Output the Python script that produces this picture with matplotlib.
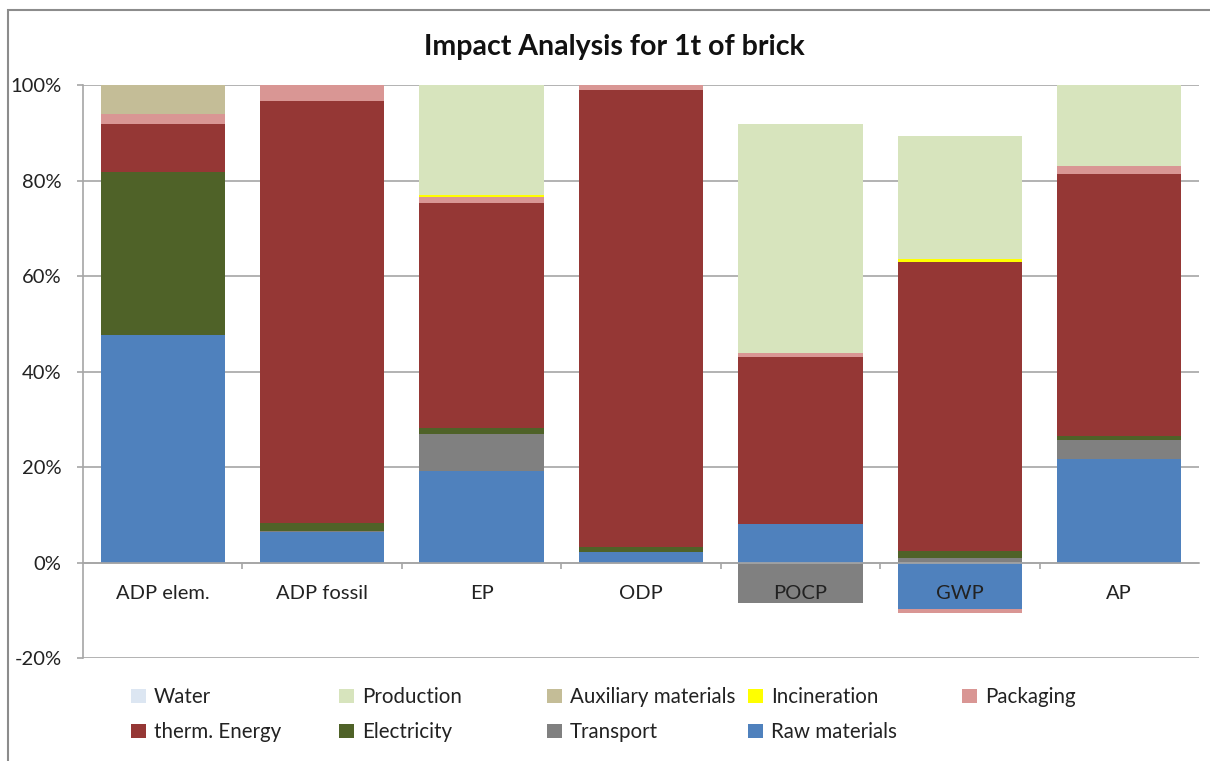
import matplotlib
matplotlib.use("Agg")
import matplotlib.pyplot as plt
from matplotlib.patches import Rectangle, Patch
import numpy as np

plt.rcParams['font.family'] = ['Lato', 'DejaVu Sans']

categories = ['ADP elem.', 'ADP fossil', 'EP', 'ODP', 'POCP', 'GWP', 'AP']

# values in percent, stacked bottom -> top
raw_materials = [47.6, 6.4, 19.1, 2.2, 8.0, -9.8, 21.6]
transport     = [0.0, 0.3, 7.9, 0.0, -8.4, 1.0, 4.0]
electricity   = [34.2, 1.5, 1.1, 1.0, 0.0, 1.5, 0.8]
therm_energy  = [10.0, 88.5, 47.2, 95.8, 35.0, 60.5, 54.9]
packaging     = [2.1, 3.3, 1.2, 1.0, 0.8, -0.7, 1.7]
incineration  = [0.0, 0.0, 0.4, 0.0, 0.0, 0.6, 0.0]
auxiliary     = [6.1, 0.0, 0.0, 0.0, 0.0, 0.0, 0.0]
production    = [0.0, 0.0, 23.1, 0.0, 48.0, 25.7, 17.0]
water         = [0.0, 0.0, 0.0, 0.0, 0.0, 0.0, 0.0]

series_names = ['Raw materials', 'Transport', 'Electricity', 'therm. Energy',
                'Packaging', 'Incineration', 'Auxiliary materials', 'Production', 'Water']
series_vals = [raw_materials, transport, electricity, therm_energy, packaging,
               incineration, auxiliary, production, water]
colors = ['#4F81BD', '#808080', '#4F6228', '#953735', '#D99694',
          '#FFFF00', '#C4BD97', '#D7E4BD', '#DCE6F2']

fig = plt.figure(figsize=(12.10, 7.61), dpi=100)
ax = fig.add_axes([83/1210, 1-658/761, (1199-83)/1210, (658-85)/761])

x = np.arange(len(categories))
pos_bottom = np.zeros(len(categories))
neg_bottom = np.zeros(len(categories))
for name, vals, c in zip(series_names, series_vals, colors):
    v = np.array(vals, dtype=float)
    bottoms = np.where(v >= 0, pos_bottom, neg_bottom)
    ax.bar(x, v, bottom=bottoms, width=0.78, color=c, label=name, zorder=3,
           linewidth=0)
    pos_bottom += np.where(v >= 0, v, 0)
    neg_bottom += np.where(v < 0, v, 0)

ax.set_xlim(-0.5, len(categories) - 0.5)
ax.set_ylim(-20, 100)
ax.set_yticks(np.arange(-20, 101, 20))
ax.set_yticklabels([f'{t}%' for t in range(-20, 101, 20)], fontsize=14.5, color='#222222')
ax.yaxis.grid(True, color='#A6A6A6', linewidth=1.2, zorder=0)
ax.set_axisbelow(True)

for s in ['top', 'right']:
    ax.spines[s].set_visible(False)
ax.spines['left'].set_color('#A6A6A6')
ax.spines['left'].set_linewidth(1.2)
ax.spines['bottom'].set_position(('data', 0))
ax.spines['bottom'].set_color('#A6A6A6')
ax.spines['bottom'].set_linewidth(1.2)
ax.spines['bottom'].set_zorder(4)

ax.set_xticks(x)
ax.set_xticklabels(categories, fontsize=14.5, color='#222222')
ax.set_xticks(np.arange(0.5, len(categories) - 0.5, 1), minor=True)
ax.tick_params(axis='x', which='major', length=0, pad=16)
ax.tick_params(axis='x', which='minor', length=4.5, color='#A6A6A6', width=1.2, direction='out')
ax.tick_params(axis='y', length=4.5, color='#A6A6A6', width=1.2, direction='out', pad=11)
ax.xaxis.set_zorder(5)

fig.text(614/1210, 1-47/761, 'Impact Analysis for 1t of brick', ha='center', va='center',
         fontsize=20.5, fontweight='bold', color='#111111')

# border of chart area
fig.patches.append(Rectangle((8/1210, -0.05), 1.2, 1-10/761+0.05, transform=fig.transFigure,
                             fill=False, edgecolor='#8C8C8C', linewidth=1.5))

# legend: columns placed like the reference (row-major order)
legend_cols = [['Water', 'therm. Energy'], ['Production', 'Electricity'],
               ['Auxiliary materials', 'Transport'], ['Incineration', 'Raw materials'],
               ['Packaging']]
col_x = [135, 343, 551, 752, 966]
cmap = dict(zip(series_names, colors))
for names, cx in zip(legend_cols, col_x):
    handles = [Patch(facecolor=cmap[n], edgecolor='none', label=n) for n in names]
    fig.legend(handles=handles, loc='upper left',
               bbox_to_anchor=(cx/1210 - 0.003, 1-687/761), frameon=False,
               fontsize=14.8, handlelength=0.7, handleheight=0.7, handletextpad=0.4,
               labelspacing=0.75, borderpad=0, borderaxespad=0,
               labelcolor='#222222')

fig.savefig('out.png', dpi=100)
